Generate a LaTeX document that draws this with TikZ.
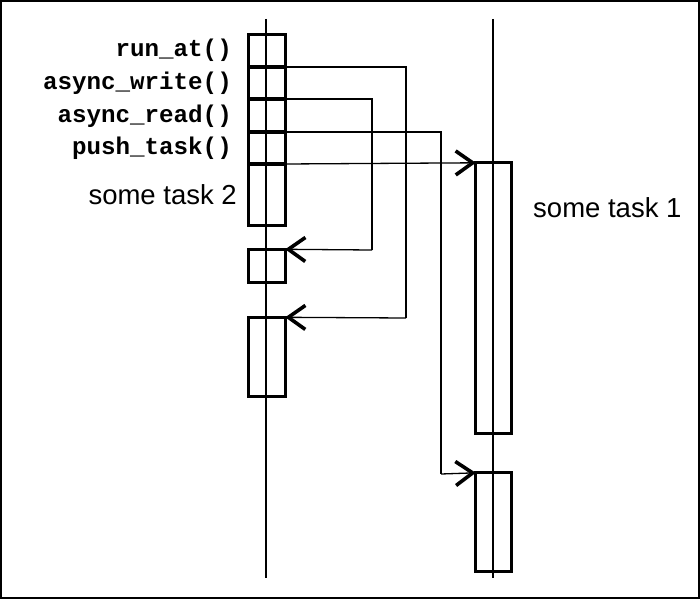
\documentclass[tikz,border=0pt]{standalone}
\usepackage{fontspec}
\setmainfont{Liberation Sans}
\newfontfamily\codefont{Liberation Mono}
\usetikzlibrary{arrows.meta}
\begin{document}
\begin{tikzpicture}[x=1pt,y=-1pt,
  lifeline/.style={line width=1.3pt},
  conn/.style={line width=1.3pt},
  openarrow/.style={-{Straight Barb[length=17pt,width=24pt,line width=3.6pt]}},
  slot/.style={draw=none,inner sep=0pt},
  codelbl/.style={anchor=east,font=\codefont\bfseries\fontsize{24.2}{24.2}\selectfont,inner sep=0pt},
  tasklbl/.style={font=\fontsize{27.5}{27.5}\selectfont,inner sep=0pt}]
\useasboundingbox (0,0) rectangle (700,599);
\draw[line width=2pt] (1,1) rectangle (699,598);
% lifelines
\coordinate (l1top) at (266,19);
\coordinate (l1bot) at (266,578);
\coordinate (l2top) at (493,19);
\coordinate (l2bot) at (493,578);
\draw[lifeline] (l1top) -- (l1bot);
\draw[lifeline] (l2top) -- (l2bot);
% left activation boxes
\node[slot,minimum width=36pt,minimum height=191pt] (b1) at (267,130) {};
\draw[line width=3.2pt] (b1.south west) rectangle (b1.north east);
\node[slot,minimum width=36pt,minimum height=33pt] (b2) at (267,266) {};
\draw[line width=3.2pt] (b2.south west) rectangle (b2.north east);
\node[slot,minimum width=36pt,minimum height=79pt] (b3) at (267,357) {};
\draw[line width=3.2pt] (b3.south west) rectangle (b3.north east);
% right activation boxes
\node[slot,minimum width=35pt,minimum height=270pt] (b4) at (493.5,298) {};
\draw[line width=3.2pt] (b4.south west) rectangle (b4.north east);
\node[slot,minimum width=35pt,minimum height=98pt] (b5) at (493.5,522) {};
\draw[line width=3.2pt] (b5.south west) rectangle (b5.north east);
% divisions in b1
\coordinate (d1l) at (249,67); \coordinate (d1r) at (285,67);
\coordinate (d2l) at (249,99); \coordinate (d2r) at (285,99);
\coordinate (d3l) at (249,132); \coordinate (d3r) at (285,132);
\coordinate (d4l) at (249,164); \coordinate (d4r) at (285,164);
\draw[line width=3.2pt] (d1l) -- (d1r) (d2l) -- (d2r) (d3l) -- (d3r) (d4l) -- (d4r);
% connectors
\coordinate (c1) at (406,67); \coordinate (c1b) at (406,318);
\coordinate (c2) at (372,99); \coordinate (c2b) at (372,250);
\coordinate (c3) at (441,132); \coordinate (c3b) at (441,474);
\draw[conn] (d1r) -- (c1) -- (c1b);
\draw[conn,openarrow] (c1b) -- (b3.north east);
\draw[conn] (d2r) -- (c2) -- (c2b);
\draw[conn,openarrow] (c2b) -- (b2.north east);
\draw[conn] (d3r) -- (c3) -- (c3b);
\draw[conn,openarrow] (c3b) -- (b5.north west);
\draw[conn,openarrow] (d4r) -- (b4.north west);
% labels
\node[codelbl] (t1) at (232,50) {run\_at()};
\node[codelbl] (t2) at (232,83) {async\_write()};
\node[codelbl] (t3) at (232,116) {async\_read()};
\node[codelbl] (t4) at (232,148) {push\_task()};
\node[tasklbl,anchor=east] (s2) at (237,195) {some task 2};
\node[tasklbl,anchor=west] (s1) at (533,208) {some task 1};
\end{tikzpicture}
\end{document}
